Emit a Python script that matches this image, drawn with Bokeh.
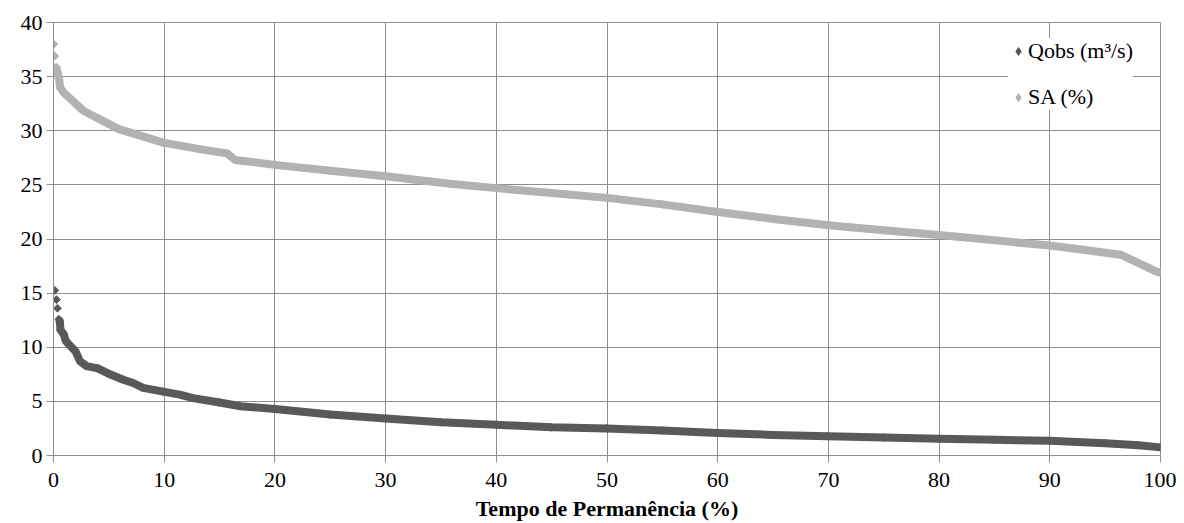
import numpy as np
from bokeh.plotting import figure
from bokeh.models import ColumnDataSource, Legend, LegendItem, SingleIntervalTicker, Range1d
from bokeh.embed import file_html
from bokeh.resources import INLINE

# ---- data ----
qobs_x = [0.12, 0.27, 0.36, 0.48, 0.57, 0.63, 0.93, 1.1, 1.4, 2.0, 2.4, 3.0, 4.0, 5.1, 6.3,
          7.2, 8.1, 9.9, 11.5, 12.6, 15.0, 16.9, 20.0, 25.0, 30.0, 35.0, 40.0, 45.0, 50.0,
          55.0, 60.0, 65.0, 70.0, 75.0, 80.0, 85.0, 90.0, 95.0, 98.0, 100.0]
qobs_y = [15.25, 14.4, 13.6, 12.6, 12.4, 11.6, 11.2, 10.6, 10.25, 9.6, 8.7, 8.25, 8.05, 7.5, 7.0,
          6.7, 6.25, 5.9, 5.6, 5.3, 4.9, 4.55, 4.3, 3.78, 3.42, 3.07, 2.84, 2.6, 2.5,
          2.3, 2.08, 1.9, 1.77, 1.66, 1.55, 1.45, 1.36, 1.14, 0.95, 0.75]

sa_x = [0.03, 0.12, 0.25, 0.37, 0.5, 0.6, 0.9, 2.7, 5.9, 8.0, 9.9, 13.2, 15.7, 16.4, 20.0,
        25.0, 30.0, 35.8, 40.0, 45.0, 50.0, 55.0, 60.0, 65.0, 70.0, 75.0, 80.0, 87.2, 90.0,
        93.0, 96.4, 98.6, 99.5, 99.9]
sa_y = [38.0, 36.9, 35.9, 35.4, 34.8, 34.0, 33.55, 31.85, 30.15, 29.5, 28.9, 28.3, 27.9, 27.3, 26.85,
        26.3, 25.8, 25.1, 24.7, 24.25, 23.8, 23.2, 22.5, 21.85, 21.27, 20.8, 20.37, 19.66, 19.4,
        19.0, 18.55, 17.5, 17.05, 16.9]

x_label = "Tempo de Permanência (%)"
series_names = ["Qobs (m³/s)", "SA (%)"]
colors = ["#595959", "#B2B2B2"]

FONT = "Liberation Serif"
GRID = "#8f8f8f"

p = figure(width=1176, height=523, output_backend="svg", toolbar_location=None,
           x_range=Range1d(0, 100), y_range=Range1d(0, 40),
           min_border_left=53, min_border_right=16, min_border_top=22, min_border_bottom=68)
p.outline_line_color = GRID
p.outline_line_width = 1
p.background_fill_color = "white"

# grid
p.xgrid.ticker = SingleIntervalTicker(interval=10)
p.ygrid.ticker = SingleIntervalTicker(interval=5)
for g in (p.xgrid, p.ygrid):
    g.grid_line_color = GRID
    g.grid_line_width = 1

# axes
p.xaxis.ticker = SingleIntervalTicker(interval=10)
p.yaxis.ticker = SingleIntervalTicker(interval=5)
for ax in (p.xaxis, p.yaxis):
    ax.axis_line_color = GRID
    ax.major_tick_line_color = GRID
    ax.major_tick_in = 0
    ax.major_tick_out = 7
    ax.minor_tick_line_color = None
    ax.major_label_text_font = FONT
    ax.major_label_text_font_size = "22px"
    ax.major_label_text_color = "black"
p.xaxis.major_label_standoff = 10
p.yaxis.major_label_standoff = 4
p.xaxis.axis_label = x_label
p.xaxis.axis_label_text_font = FONT
p.xaxis.axis_label_text_font_style = "bold"
p.xaxis.axis_label_text_font_size = "22px"
p.xaxis.axis_label_text_color = "black"
p.xaxis.axis_label_standoff = 6

# series
src_q = ColumnDataSource(dict(x=qobs_x, y=qobs_y))
src_s = ColumnDataSource(dict(x=sa_x, y=sa_y))

p.line(qobs_x[3:], qobs_y[3:], line_color=colors[0], line_width=8, line_join="round")
p.scatter("x", "y", source=src_q, marker="square", angle=np.pi / 4, size=5.5,
          fill_color=colors[0], line_color=colors[0])

p.line(sa_x[2:], sa_y[2:], line_color=colors[1], line_width=8, line_join="round")
p.scatter("x", "y", source=src_s, marker="square", angle=np.pi / 4, size=5.5,
          fill_color=colors[1], line_color=colors[1])

# hidden renderers used only for the legend swatches (diamonds)
leg_q = p.scatter("x", "y", source=src_q, marker="diamond", size=8,
                  fill_color=colors[0], line_color=colors[0], visible=False)
leg_s = p.scatter("x", "y", source=src_s, marker="diamond", size=8,
                  fill_color=colors[1], line_color=colors[1], visible=False)

legend = Legend(items=[LegendItem(label=series_names[0], renderers=[leg_q]),
                       LegendItem(label=series_names[1], renderers=[leg_s])],
                location=(955, 345))
legend.label_text_font = FONT
legend.label_text_font_size = "22px"
legend.label_text_color = "black"
legend.padding = 8
legend.spacing = 20
legend.label_height = 26
legend.glyph_height = 26
legend.glyph_width = 20
legend.label_standoff = 0
legend.border_line_color = None
legend.background_fill_color = "white"
legend.background_fill_alpha = 1.0
legend.inactive_fill_alpha = 0.0
legend.margin = 0
p.add_layout(legend)

open("out.html", "w").write(file_html(p, INLINE))
